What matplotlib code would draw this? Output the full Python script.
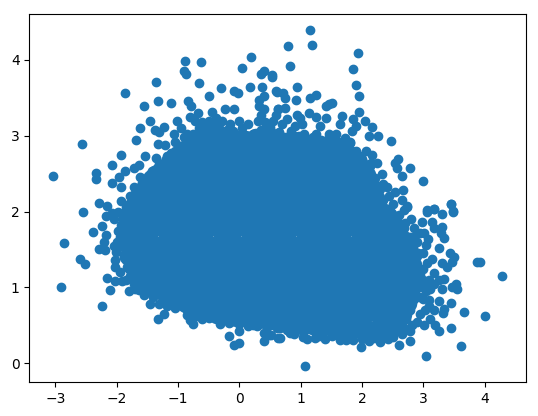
import matplotlib
matplotlib.use("Agg")
import matplotlib.pyplot as plt

# scattered points around the blob
outer = [
    (-0.89,3.98),(-0.63,3.97),(0.20,4.04),(0.04,3.89),(-0.90,3.86),(-0.86,3.82),(0.41,3.86),(0.36,3.82),(0.54,3.80),
    (-1.35,3.71),(-1.87,3.56),(-0.65,3.69),(-0.30,3.63),(0.18,3.64),(0.37,3.64),(0.61,3.58),(-0.08,3.59),(-0.02,3.57),
    (-0.50,3.52),(0.41,3.52),(0.33,3.47),(-1.32,3.46),(-1.12,3.43),(-0.83,3.46),(-0.79,3.39),(-1.56,3.39),(0.32,3.39),
    (0.41,3.36),(0.64,3.36),(-0.08,3.36),(-0.23,3.35),(-0.45,3.31),(-0.68,3.30),(-0.81,3.25),(0.35,3.28),(-1.45,3.19),
    (-1.02,3.19),(-0.01,3.19),(0.14,3.16),(-1.62,3.10),(-1.23,3.12),(-1.37,3.08),(-1.30,3.05),(-1.07,3.03),(-0.85,3.03),
    (-1.69,2.94),(-1.32,2.89),(-1.21,2.88),(-2.57,2.89),(-0.95,2.87),(-1.93,2.75),(-1.53,2.74),(-1.35,2.71),(-1.12,2.77),
    (-2.08,2.61),(-1.64,2.61),(-1.72,2.58),(-1.87,2.53),(-2.33,2.51),(-2.33,2.43),(-3.04,2.47),(-1.96,2.46),(-2.08,2.38),
    (-1.93,2.33),(-1.72,2.33),(-1.61,2.46),(-1.42,2.54),(-2.29,2.11),(-2.15,2.07),(-1.93,2.14),(-1.78,2.20),(-2.54,2.00),
    (1.16,4.39),(1.18,4.20),(0.79,4.18),(1.93,4.09),(0.82,3.92),(1.85,3.88),(0.54,3.78),(1.90,3.67),(0.95,3.65),(1.96,3.52),
    (0.60,3.59),(0.71,3.56),(0.75,3.50),(1.26,3.54),(1.15,3.50),(0.92,3.47),(1.51,3.43),(1.46,3.42),(1.41,3.39),(0.64,3.36),
    (0.75,3.37),(1.95,3.32),(0.95,3.27),(1.13,3.30),(1.67,3.26),(1.25,3.25),(1.42,3.23),(1.86,3.22),(0.99,3.23),(2.05,3.19),
    (1.64,3.15),(1.32,3.13),(2.16,3.11),(1.91,3.13),(1.02,3.15),(0.91,3.13),(1.84,3.06),(0.84,3.06),(2.11,3.00),(2.27,3.00),
    (2.47,2.93),(1.47,3.02),(1.58,3.02),(1.26,3.03),(1.73,2.97),(1.81,2.92),(2.07,2.80),(2.17,2.75),(2.59,2.70),(2.54,2.64),
    (2.58,2.58),(2.78,2.57),(2.24,2.64),(2.15,2.64),(1.94,2.75),(2.66,2.47),(2.32,2.50),(2.17,2.44),(2.99,2.41),(2.35,2.37),
    (2.41,2.33),(2.67,2.29),(2.54,2.26),(2.65,2.16),(2.73,2.06),(3.45,2.10),(3.17,2.04),(3.06,2.02),(3.49,2.01),
    (-2.08,1.98),(-2.17,1.94),(-2.24,1.81),(-2.38,1.73),(-2.86,1.58),(-2.17,1.69),(-2.20,1.60),(-2.29,1.51),(-2.19,1.50),
    (-2.01,1.47),(-2.60,1.38),(-2.52,1.31),(-2.02,1.36),(-2.03,1.27),(-2.15,1.12),(-2.02,1.09),(-1.91,1.08),(-2.91,1.00),
    (-2.11,0.97),(-1.80,0.95),(-1.64,0.97),(-1.56,0.90),(-2.24,0.75),(-1.45,0.78),(-1.40,0.90),(-1.23,0.65),(-1.32,0.59),
    (-1.18,0.75),(-1.04,0.73),(-0.85,0.64),(-0.80,0.57),(-0.76,0.52),(-0.61,0.59),(-0.31,0.52),(-0.16,0.36),(-0.09,0.24),
    (-0.01,0.27),(-0.01,0.43),(-0.17,0.53),(0.15,0.49),(0.29,0.49),(0.40,0.40),(0.41,0.29),(0.64,0.33),(0.48,0.37),(0.61,0.46),
    (0.66,0.33),(0.51,0.37),(0.83,0.40),(1.08,-0.03),(1.04,0.35),(1.11,0.32),(1.23,0.33),(1.40,0.32),(1.51,0.36),(1.64,0.31),
    (1.74,0.31),(1.86,0.31),(1.98,0.22),(2.11,0.29),(2.29,0.28),(2.43,0.32),(2.60,0.24),(2.79,0.29),(3.05,0.09),(3.61,0.23),
    (3.45,0.46),(3.25,0.43),(3.19,0.51),(3.11,0.58),(3.02,0.51),(2.81,0.51),(2.79,0.43),(4.00,0.62),(3.66,0.67),(3.32,0.66),
    (3.34,0.72),(3.17,0.70),(3.03,0.70),(3.25,0.82),(3.46,0.80),(3.09,0.84),(2.95,0.88),(4.29,1.15),(3.55,0.98),(3.31,0.98),
    (3.47,1.01),(3.53,1.05),(3.34,1.11),(3.25,1.10),(3.11,0.98),(3.17,1.05),(3.03,1.03),(2.95,1.16),(3.17,1.19),(3.87,1.33),
    (3.92,1.33),(3.39,1.27),(3.30,1.32),(3.47,1.33),(3.51,1.40),(3.43,1.46),(3.15,1.38),(3.06,1.32),(2.92,1.46),(3.25,1.52),
    (3.04,1.56),(3.07,1.64),(2.85,1.67),(3.34,1.65),(3.29,1.72),(3.30,1.80),(3.15,1.86),(3.17,1.78),(3.02,1.72),(2.98,1.86),
    (2.71,1.85),(2.54,1.93),(3.30,1.97),(3.17,2.03),(3.06,1.99),(3.49,2.00),(3.45,2.10),(2.68,2.02),(2.74,2.07),(2.60,1.74),
    (-0.72,3.2),(-0.6,3.18),(-0.5,3.2),(-0.38,3.24),(-0.28,3.2),(-0.15,3.15),(-0.38,3.13),(0.05,3.1),(0.3,3.2),(0.42,3.18),
    (0.55,3.2),(0.7,3.15),(0.78,3.22),(0.6,3.28),(-0.95,3.1),(-0.9,2.98),(-1.05,2.92),(-1.15,2.7),(-1.25,2.62),
    (2.95,1.0),(3.0,0.85),(2.95,0.65),(3.0,1.25),(3.0,1.1),(3.1,1.1),(3.05,0.95),(3.0,1.45),(2.9,1.6),(2.95,1.72),(2.85,1.78),
    (2.8,1.9),(2.6,1.95),(2.5,2.1),(2.45,2.2),(2.9,0.55),(3.1,0.75),
    (-1.98,1.75),(-2.0,1.6),(-2.05,1.9),(-1.98,2.0),(-2.05,1.55),(-1.95,1.2),(-1.85,1.1),(-1.7,0.98),(-1.3,0.78),
    (0.9,0.38),(1.3,0.36),(2.0,0.32),(2.2,0.33),(2.5,0.35),(2.65,0.38),
]

# points on the edge of the solid area
rim = [
    (-1.84,2.06),(-1.75,2.15),(-1.67,2.28),(-1.58,2.38),(-1.48,2.47),(-1.39,2.55),(-1.3,2.63),(-1.18,2.73),(-1.05,2.8),
    (-0.95,2.87),(-0.85,2.93),(-0.75,3.02),(-0.65,3.1),(-0.55,3.13),(-0.45,3.13),(-0.33,3.1),(-0.2,3.08),(-0.1,3.06),
    (0.05,3.03),(0.23,3.03),(0.35,3.08),(0.5,3.12),(0.65,3.05),(0.77,2.99),(0.9,3.0),(1.05,3.03),(1.2,2.98),(1.33,2.95),
    (1.43,2.95),(1.6,2.93),(1.81,2.9),(1.9,2.8),(2.0,2.7),(2.14,2.6),(2.22,2.45),(2.3,2.3),(2.35,2.15),(2.35,2.03),
    (2.45,1.97),(2.57,1.89),(2.68,1.78),(2.79,1.67),(2.84,1.55),(2.9,1.41),(2.9,1.25),(2.9,1.1),(2.9,1.01),(2.85,0.85),
    (2.79,0.7),(2.72,0.58),(2.68,0.46),(2.5,0.4),(2.3,0.35),(2.1,0.36),(1.86,0.37),(1.6,0.38),(1.32,0.4),(1.05,0.42),
    (0.78,0.44),(0.67,0.46),(0.45,0.48),(0.23,0.5),(0.0,0.52),(-0.15,0.55),(-0.31,0.55),(-0.5,0.6),(-0.69,0.62),(-0.85,0.7),
    (-1.07,0.75),(-1.25,0.82),(-1.4,0.88),(-1.55,0.95),(-1.72,1.05),(-1.78,1.15),(-1.83,1.27),(-1.88,1.4),(-1.92,1.55),
    (-1.94,1.67),(-1.92,1.82),(-1.89,1.98),
]

# just inside the edge, closes the gap to the middle
inner = [
    (-1.74,2.06),(-1.64,2.2),(-1.52,2.32),(-1.4,2.44),(-1.27,2.54),(-1.13,2.65),(-0.98,2.74),(-0.85,2.82),(-0.72,2.93),
    (-0.58,3.02),(-0.42,3.03),(-0.25,2.99),(-0.08,2.96),(0.1,2.95),(0.27,2.97),(0.45,3.02),(0.62,2.96),(0.8,2.91),(0.98,2.93),
    (1.15,2.89),(1.32,2.86),(1.5,2.85),(1.68,2.83),(1.82,2.74),(1.95,2.62),(2.07,2.48),(2.15,2.33),(2.22,2.18),(2.27,2.0),
    (2.42,1.87),(2.55,1.77),(2.67,1.62),(2.77,1.47),(2.81,1.3),(2.81,1.13),(2.79,0.96),(2.73,0.8),(2.65,0.65),(2.58,0.52),
    (2.42,0.47),(2.25,0.44),(2.07,0.45),(1.9,0.46),(1.72,0.47),(1.55,0.47),(1.37,0.49),(1.2,0.5),(1.02,0.51),(0.85,0.53),
    (0.67,0.55),(0.5,0.57),(0.32,0.58),(0.15,0.6),(-0.03,0.61),(-0.2,0.64),(-0.37,0.65),(-0.54,0.7),(-0.7,0.73),(-0.87,0.8),
    (-1.04,0.85),(-1.2,0.92),(-1.36,0.98),(-1.52,1.05),(-1.65,1.14),(-1.73,1.28),(-1.79,1.42),(-1.83,1.58),(-1.84,1.75),
    (-1.81,1.92),
    (-1.5,2.08),(-1.38,2.2),(-1.2,2.35),(-1.02,2.47),(-0.82,2.6),(-0.6,2.78),(-0.3,2.82),(0.1,2.78),(0.4,2.8),(0.75,2.72),
    (1.1,2.72),(1.5,2.68),(1.7,2.6),(1.85,2.42),(1.98,2.22),(2.05,2.0),(2.25,1.72),(2.5,1.55),(2.6,1.3),(2.6,1.05),(2.5,0.8),
    (2.3,0.62),(2.0,0.6),(1.7,0.62),(1.35,0.65),(1.0,0.67),(0.65,0.7),(0.3,0.72),(-0.05,0.77),(-0.4,0.82),(-0.7,0.9),
    (-1.0,1.02),(-1.25,1.1),(-1.48,1.2),(-1.57,1.35),(-1.63,1.6),(-1.63,1.85),
]

# the solid middle, where single points cannot be told apart
core = [
    (-0.3,0.78),(0.15,0.78),(0.6,0.78),(1.05,0.78),(1.5,0.78),(1.95,0.78),(2.4,0.78),
    (-1.4,1.14),(-0.95,1.14),(-0.5,1.14),(-0.05,1.14),(0.4,1.14),(0.85,1.14),(1.3,1.14),(1.75,1.14),(2.2,1.14),(2.55,1.14),
    (-1.55,1.5),(-1.1,1.5),(-0.65,1.5),(-0.2,1.5),(0.25,1.5),(0.7,1.5),(1.15,1.5),(1.6,1.5),(2.05,1.5),(2.55,1.5),
    (-1.55,1.86),(-1.1,1.86),(-0.65,1.86),(-0.2,1.86),(0.25,1.86),(0.7,1.86),(1.15,1.86),(1.6,1.86),(2.05,1.86),(2.3,1.86),
    (-1.3,2.22),(-0.85,2.22),(-0.4,2.22),(0.05,2.22),(0.5,2.22),(0.95,2.22),(1.4,2.22),(1.85,2.22),
    (-0.85,2.58),(-0.4,2.58),(0.05,2.58),(0.5,2.58),(0.95,2.58),(1.4,2.58),(1.75,2.58),
    (-0.4,2.78),(0.05,2.78),(0.5,2.78),(0.95,2.78),(1.35,2.68),
]

fig, ax = plt.subplots(figsize=(5.38, 4.16), dpi=100)
fig.subplots_adjust(left=0.0548, right=0.977, bottom=0.0817, top=0.967)

ax.scatter([p[0] for p in core], [p[1] for p in core], s=800, color="#1f77b4", linewidths=0)
ax.scatter([p[0] for p in inner], [p[1] for p in inner], s=200, color="#1f77b4", linewidths=0)
ax.scatter([p[0] for p in rim], [p[1] for p in rim], color="#1f77b4")
ax.scatter([p[0] for p in outer], [p[1] for p in outer], color="#1f77b4")

ax.set_xlim(-3.42, 4.67)
ax.set_ylim(-0.247, 4.61)
ax.set_xticks([-3, -2, -1, 0, 1, 2, 3, 4])
ax.set_yticks([0, 1, 2, 3, 4])

fig.savefig("out.png", dpi=100)
